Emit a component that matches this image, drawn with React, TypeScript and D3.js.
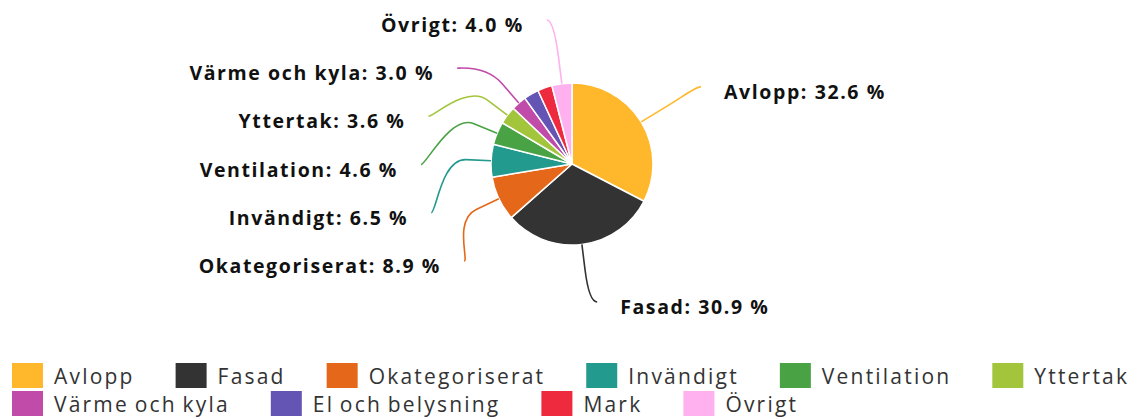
import React, { useEffect, useRef } from 'react';
import * as d3 from 'd3';

const categories = [
  'Avlopp', 'Fasad', 'Okategoriserat', 'Invändigt', 'Ventilation',
  'Yttertak', 'Värme och kyla', 'El och belysning', 'Mark', 'Övrigt',
];
const shares = [32.6, 30.9, 8.9, 6.5, 4.6, 3.6, 3.0, 3.0, 2.9, 4.0];
const colors = [
  '#FFB82B', '#333333', '#E5681A', '#229A8E', '#49A345',
  '#A2C53C', '#C04BA9', '#6454B3', '#EE2A3F', '#FFB0EE',
];

const WIDTH = 1137;
const HEIGHT = 419;

const App = () => {
  const ref = useRef<SVGSVGElement>(null);

  useEffect(() => {
    const svg = d3.select(ref.current);
    svg.selectAll('*').remove();

    const cx = 572, cy = 164, radius = 81;
    // label ring (ellipse) the connectors end on
    const ringRx = 151, ringRy = 143, ringCy = 161;
    const rowGap = 48.2, topY = 20, bottomY = 302;

    const data = categories.map((name, i) => ({ name, value: shares[i], color: colors[i], index: i }));
    const pie = d3.pie<any>().sort(null).value(d => d.value);
    const arcs = pie(data);
    const arc = d3.arc<any>().innerRadius(0).outerRadius(radius);

    const at = (a: number, r: number) => [cx + r * Math.sin(a), cy - r * Math.cos(a)];

    const chart = svg.append('g');
    chart.selectAll('path.slice')
      .data(arcs)
      .enter()
      .append('path')
      .attr('class', 'slice')
      .attr('transform', `translate(${cx},${cy})`)
      .attr('d', arc)
      .attr('fill', d => d.data.color)
      .attr('stroke', '#fff')
      .attr('stroke-width', 1.5)
      .attr('stroke-linejoin', 'round');

    // data labels, highcharts-ish distribution per side
    const labels = arcs.map(d => {
      const mid = (d.startAngle + d.endAngle) / 2;
      return { d, mid, left: mid > Math.PI, y: ringCy - ringRy * Math.cos(mid), x: 0 };
    });
    const capacity = Math.floor((bottomY - topY) / rowGap) + 1;
    const placed: any[] = [];
    [true, false].forEach(side => {
      let items = labels.filter(l => l.left === side);
      if (items.length > capacity) {
        const keep = items.slice()
          .sort((a, b) => b.d.value - a.d.value || a.d.index - b.d.index)
          .slice(0, capacity);
        items = items.filter(l => keep.includes(l));
      }
      items.sort((a, b) => a.y - b.y);
      let prev = -Infinity;
      items.forEach(l => { l.y = Math.max(l.y, prev + rowGap, topY); prev = l.y; });
      let next = Infinity;
      for (let i = items.length - 1; i >= 0; i--) {
        items[i].y = Math.min(items[i].y, next - rowGap, bottomY);
        next = items[i].y;
      }
      items.forEach(l => {
        const k = (l.y - ringCy) / ringRy;
        const dx = ringRx * Math.sqrt(Math.max(0, 1 - k * k));
        l.x = cx + (l.left ? -dx : dx);
        placed.push(l);
      });
    });

    const lbl = chart.append('g');
    placed.forEach(l => {
      const t = at(l.mid, radius);
      const b = at(l.mid, radius + 25);
      const c2 = [2 * b[0] - t[0], 2 * b[1] - t[1]];
      const c1x = l.x + (l.left ? 5 : -5);
      lbl.append('path')
        .attr('d', `M${l.x},${l.y}C${c1x},${l.y} ${c2[0]},${c2[1]} ${b[0]},${b[1]}L${t[0]},${t[1]}`)
        .attr('fill', 'none')
        .attr('stroke', l.d.data.color)
        .attr('stroke-width', 1.6);
      lbl.append('text')
        .attr('x', l.x + (l.left ? -23 : 23))
        .attr('y', l.y + 12)
        .attr('text-anchor', l.left ? 'end' : 'start')
        .attr('font-family', '"Open Sans", sans-serif')
        .attr('font-weight', 700)
        .attr('font-size', 19.5)
        .attr('letter-spacing', 1.6)
        .attr('fill', '#111')
        .text(`${l.d.data.name}: ${l.d.data.value.toFixed(1)} %`);
    });

    // legend, flowing left to right and wrapping
    const legend = svg.append('g');
    const symW = 31, symH = 25, symGap = 11, itemGap = 41, rowH = 28;
    let lx = 12, row = 0;
    data.forEach(d => {
      const g = legend.append('g');
      const text = g.append('text')
        .attr('font-family', '"Open Sans", sans-serif')
        .attr('font-size', 21)
        .attr('letter-spacing', 2.2)
        .attr('word-spacing', -2)
        .attr('fill', '#333')
        .text(d.name);
      const w = (text.node() as SVGTextElement).getComputedTextLength();
      const itemW = symW + symGap + w;
      if (lx + itemW > WIDTH && lx > 12) { lx = 12; row += 1; }
      const top = 363 + row * rowH;
      g.append('rect')
        .attr('x', lx).attr('y', top)
        .attr('width', symW).attr('height', symH)
        .attr('fill', d.color);
      text.attr('x', lx + symW + symGap).attr('y', top + 21);
      lx += itemW + itemGap;
    });
  }, []);

  return (
    <svg
      ref={ref}
      width={WIDTH}
      height={HEIGHT}
      style={{ position: 'absolute', left: 0, top: 0, background: '#fff' }}
    />
  );
};

export default App;
